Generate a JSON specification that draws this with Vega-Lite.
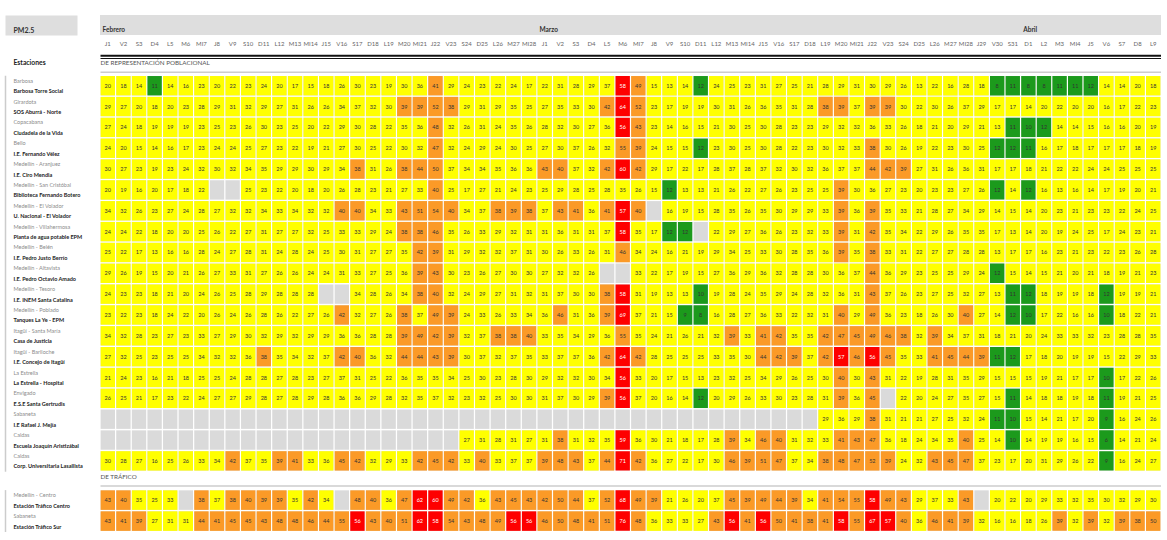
{
"$schema": "https://vega.github.io/schema/vega-lite/v6.json",
"padding": {"left": 5, "top": 15, "right": 0, "bottom": 0},
"config": {"font": "Lato", "view": {"stroke": null}},
"datasets": {
"months": [{"d": 101, "m": "Febrero"}, {"d": 201, "m": "Marzo"}, {"d": 301, "m": "Abril"}],
"stations": [
{"s":1,"k":"01|Barbosa|Barbosa Torre Social"},
{"s":2,"k":"02|Girardota|SOS Aburrá - Norte"},
{"s":3,"k":"03|Copacabana|Ciudadela de la Vida"},
{"s":4,"k":"04|Bello|I.E. Fernando Vélez"},
{"s":5,"k":"05|Medellín - Aranjuez|I.E. Ciro Mendia"},
{"s":6,"k":"06|Medellín - San Cristóbal|Biblioteca Fernando Botero"},
{"s":7,"k":"07|Medellín - El Volador|U. Nacional - El Volador"},
{"s":8,"k":"08|Medellín - Villahermosa|Planta de agua potable EPM"},
{"s":9,"k":"09|Medellín - Belén|I.E. Pedro Justo Berrío"},
{"s":10,"k":"10|Medellín - Altavista|I.E. Pedro Octavio Amado"},
{"s":11,"k":"11|Medellín - Tesoro|I.E. INEM Santa Catalina"},
{"s":12,"k":"12|Medellín - Poblado|Tanques La Ye - EPM"},
{"s":13,"k":"13|Itagüí - Santa María|Casa de Justicia"},
{"s":14,"k":"14|Itagüí - Bariloche|I.E. Concejo de Itagüí"},
{"s":15,"k":"15|La Estrella|La Estrella - Hospital"},
{"s":16,"k":"16|Envigado|E.S.E Santa Gertrudis"},
{"s":17,"k":"17|Sabaneta|I.E Rafael J. Mejía"},
{"s":18,"k":"18|Caldas|Escuela Joaquín Aristizábal"},
{"s":19,"k":"19|Caldas|Corp. Universitaria Lasallista"},
{"s":20,"k":"20|Medellín - Centro|Estación Tráfico Centro"},
{"s":21,"k":"21|Sabaneta|Estación Tráfico Sur"}
],
"cells": [
{"s":1,"d":101,"v":20},{"s":1,"d":102,"v":18},{"s":1,"d":103,"v":14},{"s":1,"d":104,"v":11},{"s":1,"d":105,"v":14},{"s":1,"d":106,"v":16},{"s":1,"d":107,"v":23},{"s":1,"d":108,"v":20},{"s":1,"d":109,"v":22},{"s":1,"d":110,"v":23},{"s":1,"d":111,"v":24},{"s":1,"d":112,"v":20},{"s":1,"d":113,"v":17},{"s":1,"d":114,"v":15},{"s":1,"d":115,"v":18},{"s":1,"d":116,"v":26},{"s":1,"d":117,"v":30},{"s":1,"d":118,"v":23},{"s":1,"d":119,"v":19},{"s":1,"d":120,"v":30},{"s":1,"d":121,"v":36},{"s":1,"d":122,"v":41},{"s":1,"d":123,"v":29},{"s":1,"d":124,"v":24},{"s":1,"d":125,"v":23},{"s":1,"d":126,"v":22},{"s":1,"d":127,"v":24},{"s":1,"d":128,"v":17},
{"s":1,"d":201,"v":22},{"s":1,"d":202,"v":31},{"s":1,"d":203,"v":28},{"s":1,"d":204,"v":29},{"s":1,"d":205,"v":37},{"s":1,"d":206,"v":58},{"s":1,"d":207,"v":49},{"s":1,"d":208,"v":15},{"s":1,"d":209,"v":13},{"s":1,"d":210,"v":14},{"s":1,"d":211,"v":12},{"s":1,"d":212,"v":24},{"s":1,"d":213,"v":25},{"s":1,"d":214,"v":23},{"s":1,"d":215,"v":31},{"s":1,"d":216,"v":27},{"s":1,"d":217,"v":25},{"s":1,"d":218,"v":21},{"s":1,"d":219,"v":28},{"s":1,"d":220,"v":29},{"s":1,"d":221,"v":31},{"s":1,"d":222,"v":30},{"s":1,"d":223,"v":29},{"s":1,"d":224,"v":26},{"s":1,"d":225,"v":13},{"s":1,"d":226,"v":22},{"s":1,"d":227,"v":16},{"s":1,"d":228,"v":28},{"s":1,"d":229,"v":18},{"s":1,"d":230,"v":8},{"s":1,"d":231,"v":11},
{"s":1,"d":301,"v":8},{"s":1,"d":302,"v":8},{"s":1,"d":303,"v":11},{"s":1,"d":304,"v":11},{"s":1,"d":305,"v":12},{"s":1,"d":306,"v":14},{"s":1,"d":307,"v":14},{"s":1,"d":308,"v":20},{"s":1,"d":309,"v":18},
{"s":2,"d":101,"v":29},{"s":2,"d":102,"v":27},{"s":2,"d":103,"v":20},{"s":2,"d":104,"v":18},{"s":2,"d":105,"v":20},{"s":2,"d":106,"v":23},{"s":2,"d":107,"v":28},{"s":2,"d":108,"v":29},{"s":2,"d":109,"v":31},{"s":2,"d":110,"v":32},{"s":2,"d":111,"v":29},{"s":2,"d":112,"v":27},{"s":2,"d":113,"v":31},{"s":2,"d":114,"v":26},{"s":2,"d":115,"v":26},{"s":2,"d":116,"v":34},{"s":2,"d":117,"v":37},{"s":2,"d":118,"v":32},{"s":2,"d":119,"v":30},{"s":2,"d":120,"v":39},{"s":2,"d":121,"v":39},{"s":2,"d":122,"v":52},{"s":2,"d":123,"v":38},{"s":2,"d":124,"v":29},{"s":2,"d":125,"v":31},{"s":2,"d":126,"v":29},{"s":2,"d":127,"v":35},{"s":2,"d":128,"v":25},
{"s":2,"d":201,"v":27},{"s":2,"d":202,"v":35},{"s":2,"d":203,"v":33},{"s":2,"d":204,"v":30},{"s":2,"d":205,"v":42},{"s":2,"d":206,"v":64},{"s":2,"d":207,"v":52},{"s":2,"d":208,"v":23},{"s":2,"d":209,"v":17},{"s":2,"d":210,"v":19},{"s":2,"d":211,"v":19},{"s":2,"d":212,"v":30},{"s":2,"d":213,"v":31},{"s":2,"d":214,"v":26},{"s":2,"d":215,"v":36},{"s":2,"d":216,"v":35},{"s":2,"d":217,"v":31},{"s":2,"d":218,"v":28},{"s":2,"d":219,"v":38},{"s":2,"d":220,"v":39},{"s":2,"d":221,"v":37},{"s":2,"d":222,"v":39},{"s":2,"d":223,"v":39},{"s":2,"d":224,"v":30},{"s":2,"d":225,"v":22},{"s":2,"d":226,"v":30},{"s":2,"d":227,"v":26},{"s":2,"d":228,"v":37},{"s":2,"d":229,"v":29},{"s":2,"d":230,"v":17},{"s":2,"d":231,"v":17},
{"s":2,"d":301,"v":14},{"s":2,"d":302,"v":20},{"s":2,"d":303,"v":22},{"s":2,"d":304,"v":20},{"s":2,"d":305,"v":20},{"s":2,"d":306,"v":16},{"s":2,"d":307,"v":17},{"s":2,"d":308,"v":22},{"s":2,"d":309,"v":23},
{"s":3,"d":101,"v":27},{"s":3,"d":102,"v":24},{"s":3,"d":103,"v":18},{"s":3,"d":104,"v":19},{"s":3,"d":105,"v":19},{"s":3,"d":106,"v":19},{"s":3,"d":107,"v":23},{"s":3,"d":108,"v":25},{"s":3,"d":109,"v":23},{"s":3,"d":110,"v":26},{"s":3,"d":111,"v":30},{"s":3,"d":112,"v":23},{"s":3,"d":113,"v":25},{"s":3,"d":114,"v":20},{"s":3,"d":115,"v":22},{"s":3,"d":116,"v":29},{"s":3,"d":117,"v":30},{"s":3,"d":118,"v":28},{"s":3,"d":119,"v":22},{"s":3,"d":120,"v":35},{"s":3,"d":121,"v":36},{"s":3,"d":122,"v":48},{"s":3,"d":123,"v":32},{"s":3,"d":124,"v":26},{"s":3,"d":125,"v":31},{"s":3,"d":126,"v":24},{"s":3,"d":127,"v":35},{"s":3,"d":128,"v":26},
{"s":3,"d":201,"v":28},{"s":3,"d":202,"v":32},{"s":3,"d":203,"v":30},{"s":3,"d":204,"v":27},{"s":3,"d":205,"v":36},{"s":3,"d":206,"v":56},{"s":3,"d":207,"v":43},{"s":3,"d":208,"v":23},{"s":3,"d":209,"v":14},{"s":3,"d":210,"v":16},{"s":3,"d":211,"v":15},{"s":3,"d":212,"v":21},{"s":3,"d":213,"v":30},{"s":3,"d":214,"v":25},{"s":3,"d":215,"v":30},{"s":3,"d":216,"v":28},{"s":3,"d":217,"v":23},{"s":3,"d":218,"v":23},{"s":3,"d":219,"v":29},{"s":3,"d":220,"v":32},{"s":3,"d":221,"v":32},{"s":3,"d":222,"v":36},{"s":3,"d":223,"v":33},{"s":3,"d":224,"v":26},{"s":3,"d":225,"v":18},{"s":3,"d":226,"v":21},{"s":3,"d":227,"v":20},{"s":3,"d":228,"v":29},{"s":3,"d":229,"v":21},{"s":3,"d":230,"v":13},{"s":3,"d":231,"v":11},
{"s":3,"d":301,"v":10},{"s":3,"d":302,"v":12},{"s":3,"d":303,"v":14},{"s":3,"d":304,"v":14},{"s":3,"d":305,"v":15},{"s":3,"d":306,"v":16},{"s":3,"d":307,"v":16},{"s":3,"d":308,"v":20},{"s":3,"d":309,"v":19},
{"s":4,"d":101,"v":24},{"s":4,"d":102,"v":20},{"s":4,"d":103,"v":15},{"s":4,"d":104,"v":14},{"s":4,"d":105,"v":16},{"s":4,"d":106,"v":17},{"s":4,"d":107,"v":23},{"s":4,"d":108,"v":24},{"s":4,"d":109,"v":24},{"s":4,"d":110,"v":25},{"s":4,"d":111,"v":27},{"s":4,"d":112,"v":23},{"s":4,"d":113,"v":22},{"s":4,"d":114,"v":19},{"s":4,"d":115,"v":21},{"s":4,"d":116,"v":27},{"s":4,"d":117,"v":30},{"s":4,"d":118,"v":25},{"s":4,"d":119,"v":22},{"s":4,"d":120,"v":30},{"s":4,"d":121,"v":32},{"s":4,"d":122,"v":47},{"s":4,"d":123,"v":32},{"s":4,"d":124,"v":24},{"s":4,"d":125,"v":29},{"s":4,"d":126,"v":24},{"s":4,"d":127,"v":30},{"s":4,"d":128,"v":25},
{"s":4,"d":201,"v":27},{"s":4,"d":202,"v":30},{"s":4,"d":203,"v":37},{"s":4,"d":204,"v":26},{"s":4,"d":205,"v":32},{"s":4,"d":206,"v":55},{"s":4,"d":207,"v":39},{"s":4,"d":208,"v":24},{"s":4,"d":209,"v":15},{"s":4,"d":210,"v":15},{"s":4,"d":211,"v":12},{"s":4,"d":212,"v":23},{"s":4,"d":213,"v":30},{"s":4,"d":214,"v":25},{"s":4,"d":215,"v":30},{"s":4,"d":216,"v":28},{"s":4,"d":217,"v":22},{"s":4,"d":218,"v":23},{"s":4,"d":219,"v":30},{"s":4,"d":220,"v":32},{"s":4,"d":221,"v":33},{"s":4,"d":222,"v":38},{"s":4,"d":223,"v":30},{"s":4,"d":224,"v":26},{"s":4,"d":225,"v":19},{"s":4,"d":226,"v":22},{"s":4,"d":227,"v":23},{"s":4,"d":228,"v":30},{"s":4,"d":229,"v":25},{"s":4,"d":230,"v":12},{"s":4,"d":231,"v":12},
{"s":4,"d":301,"v":11},{"s":4,"d":302,"v":16},{"s":4,"d":303,"v":17},{"s":4,"d":304,"v":18},{"s":4,"d":305,"v":17},{"s":4,"d":306,"v":17},{"s":4,"d":307,"v":17},{"s":4,"d":308,"v":18},{"s":4,"d":309,"v":19},
{"s":5,"d":101,"v":30},{"s":5,"d":102,"v":27},{"s":5,"d":103,"v":23},{"s":5,"d":104,"v":19},{"s":5,"d":105,"v":23},{"s":5,"d":106,"v":24},{"s":5,"d":107,"v":32},{"s":5,"d":108,"v":30},{"s":5,"d":109,"v":32},{"s":5,"d":110,"v":34},{"s":5,"d":111,"v":35},{"s":5,"d":112,"v":29},{"s":5,"d":113,"v":29},{"s":5,"d":114,"v":30},{"s":5,"d":115,"v":29},{"s":5,"d":116,"v":34},{"s":5,"d":117,"v":38},{"s":5,"d":118,"v":31},{"s":5,"d":119,"v":26},{"s":5,"d":120,"v":38},{"s":5,"d":121,"v":44},{"s":5,"d":122,"v":50},{"s":5,"d":123,"v":37},{"s":5,"d":124,"v":34},{"s":5,"d":125,"v":34},{"s":5,"d":126,"v":35},{"s":5,"d":127,"v":36},{"s":5,"d":128,"v":36},
{"s":5,"d":201,"v":43},{"s":5,"d":202,"v":40},{"s":5,"d":203,"v":37},{"s":5,"d":204,"v":32},{"s":5,"d":205,"v":42},{"s":5,"d":206,"v":60},{"s":5,"d":207,"v":42},{"s":5,"d":208,"v":29},{"s":5,"d":209,"v":17},{"s":5,"d":210,"v":22},{"s":5,"d":211,"v":17},{"s":5,"d":212,"v":28},{"s":5,"d":213,"v":37},{"s":5,"d":214,"v":28},{"s":5,"d":215,"v":37},{"s":5,"d":216,"v":32},{"s":5,"d":217,"v":30},{"s":5,"d":218,"v":32},{"s":5,"d":219,"v":36},{"s":5,"d":220,"v":37},{"s":5,"d":221,"v":37},{"s":5,"d":222,"v":44},{"s":5,"d":223,"v":42},{"s":5,"d":224,"v":39},{"s":5,"d":225,"v":27},{"s":5,"d":226,"v":31},{"s":5,"d":227,"v":26},{"s":5,"d":228,"v":36},{"s":5,"d":229,"v":31},{"s":5,"d":230,"v":17},{"s":5,"d":231,"v":17},
{"s":5,"d":301,"v":18},{"s":5,"d":302,"v":21},{"s":5,"d":303,"v":22},{"s":5,"d":304,"v":22},{"s":5,"d":305,"v":24},{"s":5,"d":306,"v":24},{"s":5,"d":307,"v":25},{"s":5,"d":308,"v":25},{"s":5,"d":309,"v":25},
{"s":6,"d":101,"v":20},{"s":6,"d":102,"v":19},{"s":6,"d":103,"v":16},{"s":6,"d":104,"v":20},{"s":6,"d":105,"v":17},{"s":6,"d":106,"v":18},{"s":6,"d":107,"v":22},{"s":6,"d":108,"v":null},{"s":6,"d":109,"v":null},{"s":6,"d":110,"v":25},{"s":6,"d":111,"v":23},{"s":6,"d":112,"v":22},{"s":6,"d":113,"v":20},{"s":6,"d":114,"v":18},{"s":6,"d":115,"v":20},{"s":6,"d":116,"v":26},{"s":6,"d":117,"v":28},{"s":6,"d":118,"v":23},{"s":6,"d":119,"v":21},{"s":6,"d":120,"v":27},{"s":6,"d":121,"v":33},{"s":6,"d":122,"v":40},{"s":6,"d":123,"v":25},{"s":6,"d":124,"v":17},{"s":6,"d":125,"v":27},{"s":6,"d":126,"v":21},{"s":6,"d":127,"v":24},{"s":6,"d":128,"v":23},
{"s":6,"d":201,"v":25},{"s":6,"d":202,"v":29},{"s":6,"d":203,"v":28},{"s":6,"d":204,"v":25},{"s":6,"d":205,"v":28},{"s":6,"d":206,"v":35},{"s":6,"d":207,"v":26},{"s":6,"d":208,"v":15},{"s":6,"d":209,"v":12},{"s":6,"d":210,"v":13},{"s":6,"d":211,"v":13},{"s":6,"d":212,"v":21},{"s":6,"d":213,"v":26},{"s":6,"d":214,"v":22},{"s":6,"d":215,"v":27},{"s":6,"d":216,"v":26},{"s":6,"d":217,"v":23},{"s":6,"d":218,"v":25},{"s":6,"d":219,"v":25},{"s":6,"d":220,"v":39},{"s":6,"d":221,"v":30},{"s":6,"d":222,"v":36},{"s":6,"d":223,"v":27},{"s":6,"d":224,"v":23},{"s":6,"d":225,"v":20},{"s":6,"d":226,"v":23},{"s":6,"d":227,"v":23},{"s":6,"d":228,"v":27},{"s":6,"d":229,"v":26},{"s":6,"d":230,"v":12},{"s":6,"d":231,"v":14},
{"s":6,"d":301,"v":12},{"s":6,"d":302,"v":16},{"s":6,"d":303,"v":13},{"s":6,"d":304,"v":16},{"s":6,"d":305,"v":14},{"s":6,"d":306,"v":17},{"s":6,"d":307,"v":19},{"s":6,"d":308,"v":20},{"s":6,"d":309,"v":21},
{"s":7,"d":101,"v":34},{"s":7,"d":102,"v":32},{"s":7,"d":103,"v":26},{"s":7,"d":104,"v":23},{"s":7,"d":105,"v":27},{"s":7,"d":106,"v":24},{"s":7,"d":107,"v":28},{"s":7,"d":108,"v":27},{"s":7,"d":109,"v":32},{"s":7,"d":110,"v":32},{"s":7,"d":111,"v":34},{"s":7,"d":112,"v":33},{"s":7,"d":113,"v":34},{"s":7,"d":114,"v":32},{"s":7,"d":115,"v":32},{"s":7,"d":116,"v":40},{"s":7,"d":117,"v":40},{"s":7,"d":118,"v":34},{"s":7,"d":119,"v":33},{"s":7,"d":120,"v":43},{"s":7,"d":121,"v":51},{"s":7,"d":122,"v":54},{"s":7,"d":123,"v":40},{"s":7,"d":124,"v":34},{"s":7,"d":125,"v":37},{"s":7,"d":126,"v":38},{"s":7,"d":127,"v":39},{"s":7,"d":128,"v":38},
{"s":7,"d":201,"v":37},{"s":7,"d":202,"v":43},{"s":7,"d":203,"v":41},{"s":7,"d":204,"v":36},{"s":7,"d":205,"v":41},{"s":7,"d":206,"v":57},{"s":7,"d":207,"v":40},{"s":7,"d":208,"v":null},{"s":7,"d":209,"v":16},{"s":7,"d":210,"v":19},{"s":7,"d":211,"v":15},{"s":7,"d":212,"v":28},{"s":7,"d":213,"v":35},{"s":7,"d":214,"v":26},{"s":7,"d":215,"v":35},{"s":7,"d":216,"v":30},{"s":7,"d":217,"v":29},{"s":7,"d":218,"v":29},{"s":7,"d":219,"v":33},{"s":7,"d":220,"v":39},{"s":7,"d":221,"v":36},{"s":7,"d":222,"v":39},{"s":7,"d":223,"v":35},{"s":7,"d":224,"v":33},{"s":7,"d":225,"v":21},{"s":7,"d":226,"v":28},{"s":7,"d":227,"v":27},{"s":7,"d":228,"v":34},{"s":7,"d":229,"v":29},{"s":7,"d":230,"v":14},{"s":7,"d":231,"v":15},
{"s":7,"d":301,"v":14},{"s":7,"d":302,"v":20},{"s":7,"d":303,"v":23},{"s":7,"d":304,"v":21},{"s":7,"d":305,"v":23},{"s":7,"d":306,"v":23},{"s":7,"d":307,"v":22},{"s":7,"d":308,"v":24},{"s":7,"d":309,"v":25},
{"s":8,"d":101,"v":24},{"s":8,"d":102,"v":24},{"s":8,"d":103,"v":22},{"s":8,"d":104,"v":18},{"s":8,"d":105,"v":20},{"s":8,"d":106,"v":20},{"s":8,"d":107,"v":25},{"s":8,"d":108,"v":26},{"s":8,"d":109,"v":22},{"s":8,"d":110,"v":27},{"s":8,"d":111,"v":31},{"s":8,"d":112,"v":27},{"s":8,"d":113,"v":27},{"s":8,"d":114,"v":32},{"s":8,"d":115,"v":25},{"s":8,"d":116,"v":33},{"s":8,"d":117,"v":33},{"s":8,"d":118,"v":29},{"s":8,"d":119,"v":24},{"s":8,"d":120,"v":38},{"s":8,"d":121,"v":38},{"s":8,"d":122,"v":46},{"s":8,"d":123,"v":35},{"s":8,"d":124,"v":26},{"s":8,"d":125,"v":33},{"s":8,"d":126,"v":29},{"s":8,"d":127,"v":32},{"s":8,"d":128,"v":31},
{"s":8,"d":201,"v":31},{"s":8,"d":202,"v":36},{"s":8,"d":203,"v":31},{"s":8,"d":204,"v":31},{"s":8,"d":205,"v":37},{"s":8,"d":206,"v":58},{"s":8,"d":207,"v":35},{"s":8,"d":208,"v":17},{"s":8,"d":209,"v":12},{"s":8,"d":210,"v":12},{"s":8,"d":211,"v":null},{"s":8,"d":212,"v":22},{"s":8,"d":213,"v":29},{"s":8,"d":214,"v":27},{"s":8,"d":215,"v":36},{"s":8,"d":216,"v":26},{"s":8,"d":217,"v":23},{"s":8,"d":218,"v":32},{"s":8,"d":219,"v":33},{"s":8,"d":220,"v":39},{"s":8,"d":221,"v":31},{"s":8,"d":222,"v":42},{"s":8,"d":223,"v":35},{"s":8,"d":224,"v":34},{"s":8,"d":225,"v":22},{"s":8,"d":226,"v":29},{"s":8,"d":227,"v":26},{"s":8,"d":228,"v":35},{"s":8,"d":229,"v":35},{"s":8,"d":230,"v":17},{"s":8,"d":231,"v":13},
{"s":8,"d":301,"v":14},{"s":8,"d":302,"v":20},{"s":8,"d":303,"v":19},{"s":8,"d":304,"v":24},{"s":8,"d":305,"v":25},{"s":8,"d":306,"v":17},{"s":8,"d":307,"v":24},{"s":8,"d":308,"v":23},{"s":8,"d":309,"v":21},
{"s":9,"d":101,"v":25},{"s":9,"d":102,"v":22},{"s":9,"d":103,"v":17},{"s":9,"d":104,"v":13},{"s":9,"d":105,"v":16},{"s":9,"d":106,"v":16},{"s":9,"d":107,"v":28},{"s":9,"d":108,"v":24},{"s":9,"d":109,"v":27},{"s":9,"d":110,"v":28},{"s":9,"d":111,"v":31},{"s":9,"d":112,"v":24},{"s":9,"d":113,"v":28},{"s":9,"d":114,"v":24},{"s":9,"d":115,"v":25},{"s":9,"d":116,"v":30},{"s":9,"d":117,"v":31},{"s":9,"d":118,"v":27},{"s":9,"d":119,"v":27},{"s":9,"d":120,"v":35},{"s":9,"d":121,"v":42},{"s":9,"d":122,"v":39},{"s":9,"d":123,"v":31},{"s":9,"d":124,"v":29},{"s":9,"d":125,"v":32},{"s":9,"d":126,"v":32},{"s":9,"d":127,"v":37},{"s":9,"d":128,"v":31},
{"s":9,"d":201,"v":30},{"s":9,"d":202,"v":26},{"s":9,"d":203,"v":33},{"s":9,"d":204,"v":26},{"s":9,"d":205,"v":31},{"s":9,"d":206,"v":46},{"s":9,"d":207,"v":34},{"s":9,"d":208,"v":24},{"s":9,"d":209,"v":16},{"s":9,"d":210,"v":21},{"s":9,"d":211,"v":19},{"s":9,"d":212,"v":29},{"s":9,"d":213,"v":34},{"s":9,"d":214,"v":25},{"s":9,"d":215,"v":33},{"s":9,"d":216,"v":30},{"s":9,"d":217,"v":28},{"s":9,"d":218,"v":35},{"s":9,"d":219,"v":36},{"s":9,"d":220,"v":39},{"s":9,"d":221,"v":35},{"s":9,"d":222,"v":38},{"s":9,"d":223,"v":33},{"s":9,"d":224,"v":31},{"s":9,"d":225,"v":22},{"s":9,"d":226,"v":27},{"s":9,"d":227,"v":27},{"s":9,"d":228,"v":28},{"s":9,"d":229,"v":28},{"s":9,"d":230,"v":13},{"s":9,"d":231,"v":17},
{"s":9,"d":301,"v":17},{"s":9,"d":302,"v":16},{"s":9,"d":303,"v":23},{"s":9,"d":304,"v":21},{"s":9,"d":305,"v":23},{"s":9,"d":306,"v":22},{"s":9,"d":307,"v":23},{"s":9,"d":308,"v":26},{"s":9,"d":309,"v":28},
{"s":10,"d":101,"v":29},{"s":10,"d":102,"v":26},{"s":10,"d":103,"v":19},{"s":10,"d":104,"v":15},{"s":10,"d":105,"v":20},{"s":10,"d":106,"v":21},{"s":10,"d":107,"v":26},{"s":10,"d":108,"v":27},{"s":10,"d":109,"v":33},{"s":10,"d":110,"v":31},{"s":10,"d":111,"v":27},{"s":10,"d":112,"v":26},{"s":10,"d":113,"v":26},{"s":10,"d":114,"v":24},{"s":10,"d":115,"v":24},{"s":10,"d":116,"v":31},{"s":10,"d":117,"v":33},{"s":10,"d":118,"v":27},{"s":10,"d":119,"v":25},{"s":10,"d":120,"v":36},{"s":10,"d":121,"v":39},{"s":10,"d":122,"v":43},{"s":10,"d":123,"v":30},{"s":10,"d":124,"v":23},{"s":10,"d":125,"v":26},{"s":10,"d":126,"v":27},{"s":10,"d":127,"v":30},{"s":10,"d":128,"v":30},
{"s":10,"d":201,"v":27},{"s":10,"d":202,"v":32},{"s":10,"d":203,"v":32},{"s":10,"d":204,"v":26},{"s":10,"d":205,"v":null},{"s":10,"d":206,"v":null},{"s":10,"d":207,"v":33},{"s":10,"d":208,"v":22},{"s":10,"d":209,"v":17},{"s":10,"d":210,"v":19},{"s":10,"d":211,"v":15},{"s":10,"d":212,"v":27},{"s":10,"d":213,"v":36},{"s":10,"d":214,"v":29},{"s":10,"d":215,"v":36},{"s":10,"d":216,"v":32},{"s":10,"d":217,"v":28},{"s":10,"d":218,"v":28},{"s":10,"d":219,"v":30},{"s":10,"d":220,"v":36},{"s":10,"d":221,"v":37},{"s":10,"d":222,"v":44},{"s":10,"d":223,"v":36},{"s":10,"d":224,"v":29},{"s":10,"d":225,"v":23},{"s":10,"d":226,"v":25},{"s":10,"d":227,"v":25},{"s":10,"d":228,"v":29},{"s":10,"d":229,"v":24},{"s":10,"d":230,"v":12},{"s":10,"d":231,"v":15},
{"s":10,"d":301,"v":14},{"s":10,"d":302,"v":15},{"s":10,"d":303,"v":21},{"s":10,"d":304,"v":20},{"s":10,"d":305,"v":21},{"s":10,"d":306,"v":18},{"s":10,"d":307,"v":19},{"s":10,"d":308,"v":21},{"s":10,"d":309,"v":23},
{"s":11,"d":101,"v":24},{"s":11,"d":102,"v":23},{"s":11,"d":103,"v":23},{"s":11,"d":104,"v":18},{"s":11,"d":105,"v":21},{"s":11,"d":106,"v":20},{"s":11,"d":107,"v":24},{"s":11,"d":108,"v":26},{"s":11,"d":109,"v":25},{"s":11,"d":110,"v":28},{"s":11,"d":111,"v":29},{"s":11,"d":112,"v":28},{"s":11,"d":113,"v":28},{"s":11,"d":114,"v":28},{"s":11,"d":115,"v":null},{"s":11,"d":116,"v":null},{"s":11,"d":117,"v":34},{"s":11,"d":118,"v":28},{"s":11,"d":119,"v":26},{"s":11,"d":120,"v":34},{"s":11,"d":121,"v":38},{"s":11,"d":122,"v":40},{"s":11,"d":123,"v":32},{"s":11,"d":124,"v":24},{"s":11,"d":125,"v":29},{"s":11,"d":126,"v":27},{"s":11,"d":127,"v":31},{"s":11,"d":128,"v":32},
{"s":11,"d":201,"v":31},{"s":11,"d":202,"v":37},{"s":11,"d":203,"v":30},{"s":11,"d":204,"v":30},{"s":11,"d":205,"v":38},{"s":11,"d":206,"v":58},{"s":11,"d":207,"v":31},{"s":11,"d":208,"v":19},{"s":11,"d":209,"v":13},{"s":11,"d":210,"v":13},{"s":11,"d":211,"v":10},{"s":11,"d":212,"v":19},{"s":11,"d":213,"v":28},{"s":11,"d":214,"v":24},{"s":11,"d":215,"v":35},{"s":11,"d":216,"v":29},{"s":11,"d":217,"v":24},{"s":11,"d":218,"v":28},{"s":11,"d":219,"v":32},{"s":11,"d":220,"v":36},{"s":11,"d":221,"v":31},{"s":11,"d":222,"v":43},{"s":11,"d":223,"v":37},{"s":11,"d":224,"v":26},{"s":11,"d":225,"v":23},{"s":11,"d":226,"v":27},{"s":11,"d":227,"v":25},{"s":11,"d":228,"v":32},{"s":11,"d":229,"v":27},{"s":11,"d":230,"v":13},{"s":11,"d":231,"v":11},
{"s":11,"d":301,"v":12},{"s":11,"d":302,"v":18},{"s":11,"d":303,"v":19},{"s":11,"d":304,"v":19},{"s":11,"d":305,"v":18},{"s":11,"d":306,"v":12},{"s":11,"d":307,"v":19},{"s":11,"d":308,"v":19},{"s":11,"d":309,"v":21},
{"s":12,"d":101,"v":23},{"s":12,"d":102,"v":22},{"s":12,"d":103,"v":23},{"s":12,"d":104,"v":18},{"s":12,"d":105,"v":24},{"s":12,"d":106,"v":22},{"s":12,"d":107,"v":20},{"s":12,"d":108,"v":26},{"s":12,"d":109,"v":24},{"s":12,"d":110,"v":26},{"s":12,"d":111,"v":28},{"s":12,"d":112,"v":26},{"s":12,"d":113,"v":22},{"s":12,"d":114,"v":27},{"s":12,"d":115,"v":26},{"s":12,"d":116,"v":42},{"s":12,"d":117,"v":32},{"s":12,"d":118,"v":27},{"s":12,"d":119,"v":26},{"s":12,"d":120,"v":38},{"s":12,"d":121,"v":37},{"s":12,"d":122,"v":49},{"s":12,"d":123,"v":39},{"s":12,"d":124,"v":24},{"s":12,"d":125,"v":33},{"s":12,"d":126,"v":26},{"s":12,"d":127,"v":33},{"s":12,"d":128,"v":34},
{"s":12,"d":201,"v":36},{"s":12,"d":202,"v":46},{"s":12,"d":203,"v":31},{"s":12,"d":204,"v":36},{"s":12,"d":205,"v":39},{"s":12,"d":206,"v":69},{"s":12,"d":207,"v":37},{"s":12,"d":208,"v":21},{"s":12,"d":209,"v":15},{"s":12,"d":210,"v":9},{"s":12,"d":211,"v":8},{"s":12,"d":212,"v":16},{"s":12,"d":213,"v":28},{"s":12,"d":214,"v":27},{"s":12,"d":215,"v":36},{"s":12,"d":216,"v":33},{"s":12,"d":217,"v":22},{"s":12,"d":218,"v":32},{"s":12,"d":219,"v":31},{"s":12,"d":220,"v":40},{"s":12,"d":221,"v":29},{"s":12,"d":222,"v":49},{"s":12,"d":223,"v":36},{"s":12,"d":224,"v":23},{"s":12,"d":225,"v":18},{"s":12,"d":226,"v":26},{"s":12,"d":227,"v":30},{"s":12,"d":228,"v":40},{"s":12,"d":229,"v":27},{"s":12,"d":230,"v":14},{"s":12,"d":231,"v":12},
{"s":12,"d":301,"v":10},{"s":12,"d":302,"v":17},{"s":12,"d":303,"v":22},{"s":12,"d":304,"v":16},{"s":12,"d":305,"v":16},{"s":12,"d":306,"v":10},{"s":12,"d":307,"v":18},{"s":12,"d":308,"v":22},{"s":12,"d":309,"v":21},
{"s":13,"d":101,"v":34},{"s":13,"d":102,"v":32},{"s":13,"d":103,"v":28},{"s":13,"d":104,"v":23},{"s":13,"d":105,"v":27},{"s":13,"d":106,"v":23},{"s":13,"d":107,"v":33},{"s":13,"d":108,"v":27},{"s":13,"d":109,"v":29},{"s":13,"d":110,"v":30},{"s":13,"d":111,"v":32},{"s":13,"d":112,"v":29},{"s":13,"d":113,"v":32},{"s":13,"d":114,"v":29},{"s":13,"d":115,"v":29},{"s":13,"d":116,"v":36},{"s":13,"d":117,"v":36},{"s":13,"d":118,"v":28},{"s":13,"d":119,"v":28},{"s":13,"d":120,"v":39},{"s":13,"d":121,"v":49},{"s":13,"d":122,"v":42},{"s":13,"d":123,"v":39},{"s":13,"d":124,"v":32},{"s":13,"d":125,"v":37},{"s":13,"d":126,"v":38},{"s":13,"d":127,"v":38},{"s":13,"d":128,"v":40},
{"s":13,"d":201,"v":33},{"s":13,"d":202,"v":35},{"s":13,"d":203,"v":34},{"s":13,"d":204,"v":29},{"s":13,"d":205,"v":36},{"s":13,"d":206,"v":55},{"s":13,"d":207,"v":35},{"s":13,"d":208,"v":24},{"s":13,"d":209,"v":21},{"s":13,"d":210,"v":26},{"s":13,"d":211,"v":21},{"s":13,"d":212,"v":32},{"s":13,"d":213,"v":39},{"s":13,"d":214,"v":33},{"s":13,"d":215,"v":41},{"s":13,"d":216,"v":42},{"s":13,"d":217,"v":35},{"s":13,"d":218,"v":35},{"s":13,"d":219,"v":42},{"s":13,"d":220,"v":47},{"s":13,"d":221,"v":45},{"s":13,"d":222,"v":49},{"s":13,"d":223,"v":46},{"s":13,"d":224,"v":38},{"s":13,"d":225,"v":32},{"s":13,"d":226,"v":39},{"s":13,"d":227,"v":34},{"s":13,"d":228,"v":37},{"s":13,"d":229,"v":31},{"s":13,"d":230,"v":18},{"s":13,"d":231,"v":21},
{"s":13,"d":301,"v":20},{"s":13,"d":302,"v":24},{"s":13,"d":303,"v":33},{"s":13,"d":304,"v":33},{"s":13,"d":305,"v":32},{"s":13,"d":306,"v":23},{"s":13,"d":307,"v":28},{"s":13,"d":308,"v":28},{"s":13,"d":309,"v":35},
{"s":14,"d":101,"v":27},{"s":14,"d":102,"v":32},{"s":14,"d":103,"v":25},{"s":14,"d":104,"v":23},{"s":14,"d":105,"v":25},{"s":14,"d":106,"v":25},{"s":14,"d":107,"v":34},{"s":14,"d":108,"v":32},{"s":14,"d":109,"v":32},{"s":14,"d":110,"v":36},{"s":14,"d":111,"v":38},{"s":14,"d":112,"v":35},{"s":14,"d":113,"v":34},{"s":14,"d":114,"v":32},{"s":14,"d":115,"v":37},{"s":14,"d":116,"v":42},{"s":14,"d":117,"v":40},{"s":14,"d":118,"v":36},{"s":14,"d":119,"v":32},{"s":14,"d":120,"v":44},{"s":14,"d":121,"v":44},{"s":14,"d":122,"v":43},{"s":14,"d":123,"v":39},{"s":14,"d":124,"v":30},{"s":14,"d":125,"v":37},{"s":14,"d":126,"v":32},{"s":14,"d":127,"v":37},{"s":14,"d":128,"v":35},
{"s":14,"d":201,"v":33},{"s":14,"d":202,"v":37},{"s":14,"d":203,"v":37},{"s":14,"d":204,"v":36},{"s":14,"d":205,"v":42},{"s":14,"d":206,"v":64},{"s":14,"d":207,"v":42},{"s":14,"d":208,"v":28},{"s":14,"d":209,"v":25},{"s":14,"d":210,"v":25},{"s":14,"d":211,"v":25},{"s":14,"d":212,"v":33},{"s":14,"d":213,"v":35},{"s":14,"d":214,"v":30},{"s":14,"d":215,"v":44},{"s":14,"d":216,"v":42},{"s":14,"d":217,"v":39},{"s":14,"d":218,"v":37},{"s":14,"d":219,"v":42},{"s":14,"d":220,"v":57},{"s":14,"d":221,"v":46},{"s":14,"d":222,"v":56},{"s":14,"d":223,"v":45},{"s":14,"d":224,"v":35},{"s":14,"d":225,"v":33},{"s":14,"d":226,"v":41},{"s":14,"d":227,"v":45},{"s":14,"d":228,"v":44},{"s":14,"d":229,"v":39},{"s":14,"d":230,"v":11},{"s":14,"d":231,"v":12},
{"s":14,"d":301,"v":17},{"s":14,"d":302,"v":18},{"s":14,"d":303,"v":20},{"s":14,"d":304,"v":19},{"s":14,"d":305,"v":19},{"s":14,"d":306,"v":15},{"s":14,"d":307,"v":22},{"s":14,"d":308,"v":29},{"s":14,"d":309,"v":33},
{"s":15,"d":101,"v":21},{"s":15,"d":102,"v":24},{"s":15,"d":103,"v":23},{"s":15,"d":104,"v":16},{"s":15,"d":105,"v":21},{"s":15,"d":106,"v":18},{"s":15,"d":107,"v":25},{"s":15,"d":108,"v":25},{"s":15,"d":109,"v":24},{"s":15,"d":110,"v":28},{"s":15,"d":111,"v":28},{"s":15,"d":112,"v":27},{"s":15,"d":113,"v":28},{"s":15,"d":114,"v":23},{"s":15,"d":115,"v":27},{"s":15,"d":116,"v":37},{"s":15,"d":117,"v":31},{"s":15,"d":118,"v":25},{"s":15,"d":119,"v":22},{"s":15,"d":120,"v":36},{"s":15,"d":121,"v":35},{"s":15,"d":122,"v":35},{"s":15,"d":123,"v":34},{"s":15,"d":124,"v":25},{"s":15,"d":125,"v":30},{"s":15,"d":126,"v":23},{"s":15,"d":127,"v":28},{"s":15,"d":128,"v":30},
{"s":15,"d":201,"v":29},{"s":15,"d":202,"v":32},{"s":15,"d":203,"v":32},{"s":15,"d":204,"v":30},{"s":15,"d":205,"v":34},{"s":15,"d":206,"v":56},{"s":15,"d":207,"v":33},{"s":15,"d":208,"v":20},{"s":15,"d":209,"v":17},{"s":15,"d":210,"v":15},{"s":15,"d":211,"v":13},{"s":15,"d":212,"v":23},{"s":15,"d":213,"v":32},{"s":15,"d":214,"v":25},{"s":15,"d":215,"v":34},{"s":15,"d":216,"v":29},{"s":15,"d":217,"v":26},{"s":15,"d":218,"v":25},{"s":15,"d":219,"v":30},{"s":15,"d":220,"v":40},{"s":15,"d":221,"v":30},{"s":15,"d":222,"v":43},{"s":15,"d":223,"v":31},{"s":15,"d":224,"v":22},{"s":15,"d":225,"v":19},{"s":15,"d":226,"v":28},{"s":15,"d":227,"v":31},{"s":15,"d":228,"v":35},{"s":15,"d":229,"v":29},{"s":15,"d":230,"v":15},{"s":15,"d":231,"v":15},
{"s":15,"d":301,"v":15},{"s":15,"d":302,"v":19},{"s":15,"d":303,"v":21},{"s":15,"d":304,"v":17},{"s":15,"d":305,"v":17},{"s":15,"d":306,"v":10},{"s":15,"d":307,"v":17},{"s":15,"d":308,"v":22},{"s":15,"d":309,"v":26},
{"s":16,"d":101,"v":26},{"s":16,"d":102,"v":25},{"s":16,"d":103,"v":21},{"s":16,"d":104,"v":17},{"s":16,"d":105,"v":23},{"s":16,"d":106,"v":22},{"s":16,"d":107,"v":24},{"s":16,"d":108,"v":27},{"s":16,"d":109,"v":27},{"s":16,"d":110,"v":29},{"s":16,"d":111,"v":28},{"s":16,"d":112,"v":27},{"s":16,"d":113,"v":28},{"s":16,"d":114,"v":29},{"s":16,"d":115,"v":28},{"s":16,"d":116,"v":36},{"s":16,"d":117,"v":36},{"s":16,"d":118,"v":29},{"s":16,"d":119,"v":28},{"s":16,"d":120,"v":32},{"s":16,"d":121,"v":35},{"s":16,"d":122,"v":37},{"s":16,"d":123,"v":32},{"s":16,"d":124,"v":23},{"s":16,"d":125,"v":32},{"s":16,"d":126,"v":25},{"s":16,"d":127,"v":30},{"s":16,"d":128,"v":30},
{"s":16,"d":201,"v":31},{"s":16,"d":202,"v":37},{"s":16,"d":203,"v":30},{"s":16,"d":204,"v":29},{"s":16,"d":205,"v":39},{"s":16,"d":206,"v":56},{"s":16,"d":207,"v":37},{"s":16,"d":208,"v":20},{"s":16,"d":209,"v":16},{"s":16,"d":210,"v":14},{"s":16,"d":211,"v":12},{"s":16,"d":212,"v":20},{"s":16,"d":213,"v":29},{"s":16,"d":214,"v":26},{"s":16,"d":215,"v":33},{"s":16,"d":216,"v":30},{"s":16,"d":217,"v":23},{"s":16,"d":218,"v":28},{"s":16,"d":219,"v":31},{"s":16,"d":220,"v":39},{"s":16,"d":221,"v":36},{"s":16,"d":222,"v":45},{"s":16,"d":223,"v":null},{"s":16,"d":224,"v":22},{"s":16,"d":225,"v":20},{"s":16,"d":226,"v":24},{"s":16,"d":227,"v":27},{"s":16,"d":228,"v":35},{"s":16,"d":229,"v":27},{"s":16,"d":230,"v":15},{"s":16,"d":231,"v":11},
{"s":16,"d":301,"v":14},{"s":16,"d":302,"v":18},{"s":16,"d":303,"v":18},{"s":16,"d":304,"v":19},{"s":16,"d":305,"v":18},{"s":16,"d":306,"v":11},{"s":16,"d":307,"v":19},{"s":16,"d":308,"v":21},{"s":16,"d":309,"v":25},
{"s":17,"d":101,"v":null},{"s":17,"d":102,"v":null},{"s":17,"d":103,"v":null},{"s":17,"d":104,"v":null},{"s":17,"d":105,"v":null},{"s":17,"d":106,"v":null},{"s":17,"d":107,"v":null},{"s":17,"d":108,"v":null},{"s":17,"d":109,"v":null},{"s":17,"d":110,"v":null},{"s":17,"d":111,"v":null},{"s":17,"d":112,"v":null},{"s":17,"d":113,"v":null},{"s":17,"d":114,"v":null},{"s":17,"d":115,"v":null},{"s":17,"d":116,"v":null},{"s":17,"d":117,"v":null},{"s":17,"d":118,"v":null},{"s":17,"d":119,"v":null},{"s":17,"d":120,"v":null},{"s":17,"d":121,"v":null},{"s":17,"d":122,"v":null},{"s":17,"d":123,"v":null},{"s":17,"d":124,"v":null},{"s":17,"d":125,"v":null},{"s":17,"d":126,"v":null},{"s":17,"d":127,"v":null},{"s":17,"d":128,"v":null},
{"s":17,"d":201,"v":null},{"s":17,"d":202,"v":null},{"s":17,"d":203,"v":null},{"s":17,"d":204,"v":null},{"s":17,"d":205,"v":null},{"s":17,"d":206,"v":null},{"s":17,"d":207,"v":null},{"s":17,"d":208,"v":null},{"s":17,"d":209,"v":null},{"s":17,"d":210,"v":null},{"s":17,"d":211,"v":null},{"s":17,"d":212,"v":null},{"s":17,"d":213,"v":null},{"s":17,"d":214,"v":null},{"s":17,"d":215,"v":null},{"s":17,"d":216,"v":null},{"s":17,"d":217,"v":null},{"s":17,"d":218,"v":null},{"s":17,"d":219,"v":29},{"s":17,"d":220,"v":36},{"s":17,"d":221,"v":29},{"s":17,"d":222,"v":38},{"s":17,"d":223,"v":31},{"s":17,"d":224,"v":21},{"s":17,"d":225,"v":21},{"s":17,"d":226,"v":27},{"s":17,"d":227,"v":25},{"s":17,"d":228,"v":32},{"s":17,"d":229,"v":24},{"s":17,"d":230,"v":11},{"s":17,"d":231,"v":10},
{"s":17,"d":301,"v":15},{"s":17,"d":302,"v":14},{"s":17,"d":303,"v":21},{"s":17,"d":304,"v":17},{"s":17,"d":305,"v":20},{"s":17,"d":306,"v":9},{"s":17,"d":307,"v":16},{"s":17,"d":308,"v":24},{"s":17,"d":309,"v":26},
{"s":18,"d":101,"v":null},{"s":18,"d":102,"v":null},{"s":18,"d":103,"v":null},{"s":18,"d":104,"v":null},{"s":18,"d":105,"v":null},{"s":18,"d":106,"v":null},{"s":18,"d":107,"v":null},{"s":18,"d":108,"v":null},{"s":18,"d":109,"v":null},{"s":18,"d":110,"v":null},{"s":18,"d":111,"v":null},{"s":18,"d":112,"v":null},{"s":18,"d":113,"v":null},{"s":18,"d":114,"v":null},{"s":18,"d":115,"v":null},{"s":18,"d":116,"v":null},{"s":18,"d":117,"v":null},{"s":18,"d":118,"v":null},{"s":18,"d":119,"v":null},{"s":18,"d":120,"v":null},{"s":18,"d":121,"v":null},{"s":18,"d":122,"v":null},{"s":18,"d":123,"v":null},{"s":18,"d":124,"v":27},{"s":18,"d":125,"v":31},{"s":18,"d":126,"v":28},{"s":18,"d":127,"v":31},{"s":18,"d":128,"v":27},
{"s":18,"d":201,"v":31},{"s":18,"d":202,"v":38},{"s":18,"d":203,"v":31},{"s":18,"d":204,"v":32},{"s":18,"d":205,"v":35},{"s":18,"d":206,"v":59},{"s":18,"d":207,"v":36},{"s":18,"d":208,"v":30},{"s":18,"d":209,"v":21},{"s":18,"d":210,"v":18},{"s":18,"d":211,"v":17},{"s":18,"d":212,"v":28},{"s":18,"d":213,"v":39},{"s":18,"d":214,"v":34},{"s":18,"d":215,"v":46},{"s":18,"d":216,"v":40},{"s":18,"d":217,"v":31},{"s":18,"d":218,"v":32},{"s":18,"d":219,"v":33},{"s":18,"d":220,"v":41},{"s":18,"d":221,"v":43},{"s":18,"d":222,"v":47},{"s":18,"d":223,"v":36},{"s":18,"d":224,"v":18},{"s":18,"d":225,"v":24},{"s":18,"d":226,"v":34},{"s":18,"d":227,"v":35},{"s":18,"d":228,"v":40},{"s":18,"d":229,"v":25},{"s":18,"d":230,"v":14},{"s":18,"d":231,"v":10},
{"s":18,"d":301,"v":14},{"s":18,"d":302,"v":19},{"s":18,"d":303,"v":19},{"s":18,"d":304,"v":16},{"s":18,"d":305,"v":15},{"s":18,"d":306,"v":6},{"s":18,"d":307,"v":14},{"s":18,"d":308,"v":21},{"s":18,"d":309,"v":24},
{"s":19,"d":101,"v":30},{"s":19,"d":102,"v":28},{"s":19,"d":103,"v":27},{"s":19,"d":104,"v":16},{"s":19,"d":105,"v":25},{"s":19,"d":106,"v":26},{"s":19,"d":107,"v":33},{"s":19,"d":108,"v":34},{"s":19,"d":109,"v":42},{"s":19,"d":110,"v":37},{"s":19,"d":111,"v":35},{"s":19,"d":112,"v":39},{"s":19,"d":113,"v":41},{"s":19,"d":114,"v":33},{"s":19,"d":115,"v":36},{"s":19,"d":116,"v":45},{"s":19,"d":117,"v":42},{"s":19,"d":118,"v":32},{"s":19,"d":119,"v":29},{"s":19,"d":120,"v":33},{"s":19,"d":121,"v":42},{"s":19,"d":122,"v":45},{"s":19,"d":123,"v":42},{"s":19,"d":124,"v":33},{"s":19,"d":125,"v":40},{"s":19,"d":126,"v":33},{"s":19,"d":127,"v":37},{"s":19,"d":128,"v":37},
{"s":19,"d":201,"v":39},{"s":19,"d":202,"v":48},{"s":19,"d":203,"v":43},{"s":19,"d":204,"v":37},{"s":19,"d":205,"v":44},{"s":19,"d":206,"v":71},{"s":19,"d":207,"v":42},{"s":19,"d":208,"v":36},{"s":19,"d":209,"v":27},{"s":19,"d":210,"v":22},{"s":19,"d":211,"v":17},{"s":19,"d":212,"v":30},{"s":19,"d":213,"v":46},{"s":19,"d":214,"v":39},{"s":19,"d":215,"v":51},{"s":19,"d":216,"v":47},{"s":19,"d":217,"v":37},{"s":19,"d":218,"v":34},{"s":19,"d":219,"v":38},{"s":19,"d":220,"v":48},{"s":19,"d":221,"v":47},{"s":19,"d":222,"v":52},{"s":19,"d":223,"v":39},{"s":19,"d":224,"v":24},{"s":19,"d":225,"v":32},{"s":19,"d":226,"v":43},{"s":19,"d":227,"v":45},{"s":19,"d":228,"v":47},{"s":19,"d":229,"v":37},{"s":19,"d":230,"v":23},{"s":19,"d":231,"v":17},
{"s":19,"d":301,"v":20},{"s":19,"d":302,"v":31},{"s":19,"d":303,"v":29},{"s":19,"d":304,"v":26},{"s":19,"d":305,"v":22},{"s":19,"d":306,"v":9},{"s":19,"d":307,"v":16},{"s":19,"d":308,"v":24},{"s":19,"d":309,"v":27},
{"s":20,"d":101,"v":43},{"s":20,"d":102,"v":40},{"s":20,"d":103,"v":35},{"s":20,"d":104,"v":25},{"s":20,"d":105,"v":33},{"s":20,"d":106,"v":null},{"s":20,"d":107,"v":38},{"s":20,"d":108,"v":37},{"s":20,"d":109,"v":38},{"s":20,"d":110,"v":40},{"s":20,"d":111,"v":39},{"s":20,"d":112,"v":39},{"s":20,"d":113,"v":35},{"s":20,"d":114,"v":42},{"s":20,"d":115,"v":34},{"s":20,"d":116,"v":null},{"s":20,"d":117,"v":48},{"s":20,"d":118,"v":40},{"s":20,"d":119,"v":36},{"s":20,"d":120,"v":47},{"s":20,"d":121,"v":62},{"s":20,"d":122,"v":60},{"s":20,"d":123,"v":49},{"s":20,"d":124,"v":42},{"s":20,"d":125,"v":36},{"s":20,"d":126,"v":43},{"s":20,"d":127,"v":45},{"s":20,"d":128,"v":43},
{"s":20,"d":201,"v":42},{"s":20,"d":202,"v":50},{"s":20,"d":203,"v":44},{"s":20,"d":204,"v":37},{"s":20,"d":205,"v":52},{"s":20,"d":206,"v":68},{"s":20,"d":207,"v":49},{"s":20,"d":208,"v":39},{"s":20,"d":209,"v":21},{"s":20,"d":210,"v":26},{"s":20,"d":211,"v":20},{"s":20,"d":212,"v":37},{"s":20,"d":213,"v":45},{"s":20,"d":214,"v":39},{"s":20,"d":215,"v":49},{"s":20,"d":216,"v":44},{"s":20,"d":217,"v":39},{"s":20,"d":218,"v":34},{"s":20,"d":219,"v":41},{"s":20,"d":220,"v":54},{"s":20,"d":221,"v":55},{"s":20,"d":222,"v":58},{"s":20,"d":223,"v":49},{"s":20,"d":224,"v":43},{"s":20,"d":225,"v":29},{"s":20,"d":226,"v":37},{"s":20,"d":227,"v":33},{"s":20,"d":228,"v":43},{"s":20,"d":229,"v":null},{"s":20,"d":230,"v":20},{"s":20,"d":231,"v":22},
{"s":20,"d":301,"v":20},{"s":20,"d":302,"v":29},{"s":20,"d":303,"v":33},{"s":20,"d":304,"v":32},{"s":20,"d":305,"v":35},{"s":20,"d":306,"v":30},{"s":20,"d":307,"v":32},{"s":20,"d":308,"v":29},{"s":20,"d":309,"v":30},
{"s":21,"d":101,"v":43},{"s":21,"d":102,"v":41},{"s":21,"d":103,"v":39},{"s":21,"d":104,"v":27},{"s":21,"d":105,"v":31},{"s":21,"d":106,"v":31},{"s":21,"d":107,"v":44},{"s":21,"d":108,"v":41},{"s":21,"d":109,"v":45},{"s":21,"d":110,"v":45},{"s":21,"d":111,"v":43},{"s":21,"d":112,"v":48},{"s":21,"d":113,"v":48},{"s":21,"d":114,"v":46},{"s":21,"d":115,"v":44},{"s":21,"d":116,"v":55},{"s":21,"d":117,"v":56},{"s":21,"d":118,"v":43},{"s":21,"d":119,"v":40},{"s":21,"d":120,"v":51},{"s":21,"d":121,"v":62},{"s":21,"d":122,"v":58},{"s":21,"d":123,"v":54},{"s":21,"d":124,"v":43},{"s":21,"d":125,"v":48},{"s":21,"d":126,"v":49},{"s":21,"d":127,"v":56},{"s":21,"d":128,"v":56},
{"s":21,"d":201,"v":46},{"s":21,"d":202,"v":50},{"s":21,"d":203,"v":48},{"s":21,"d":204,"v":41},{"s":21,"d":205,"v":51},{"s":21,"d":206,"v":76},{"s":21,"d":207,"v":48},{"s":21,"d":208,"v":36},{"s":21,"d":209,"v":33},{"s":21,"d":210,"v":33},{"s":21,"d":211,"v":27},{"s":21,"d":212,"v":43},{"s":21,"d":213,"v":56},{"s":21,"d":214,"v":41},{"s":21,"d":215,"v":56},{"s":21,"d":216,"v":50},{"s":21,"d":217,"v":41},{"s":21,"d":218,"v":38},{"s":21,"d":219,"v":41},{"s":21,"d":220,"v":58},{"s":21,"d":221,"v":55},{"s":21,"d":222,"v":67},{"s":21,"d":223,"v":57},{"s":21,"d":224,"v":40},{"s":21,"d":225,"v":36},{"s":21,"d":226,"v":46},{"s":21,"d":227,"v":41},{"s":21,"d":228,"v":39},{"s":21,"d":229,"v":32},{"s":21,"d":230,"v":16},{"s":21,"d":231,"v":16},
{"s":21,"d":301,"v":18},{"s":21,"d":302,"v":26},{"s":21,"d":303,"v":39},{"s":21,"d":304,"v":32},{"s":21,"d":305,"v":39},{"s":21,"d":306,"v":32},{"s":21,"d":307,"v":39},{"s":21,"d":308,"v":38},{"s":21,"d":309,"v":50}
]
},
"spacing": 5.3,
"vconcat": [
{
"width": 1061, "height": 20,
"view": {"fill": "#dedede", "stroke": null},
"layer": [
{"data": {"name": "cells"}, "mark": {"type": "rect", "opacity": 0},
"encoding": {
"x": {"field": "d", "type": "ordinal", "scale": {"paddingInner": 0.08, "paddingOuter": 0.04}, "axis": null},
"y": {"datum": "PM2.5", "type": "nominal", "scale": {"paddingInner": 0, "paddingOuter": 0},
"axis": {"orient": "left", "offset": 59, "domain": true, "domainColor": "#dedede", "domainWidth": 72, "labels": false, "ticks": false, "tickSize": 0, "grid": false,
"title": "PM2.5", "titleAngle": 0, "titleX": -28, "titleY": 15, "titleAlign": "left", "titleBaseline": "middle", "titleFontSize": 7, "titleFontWeight": "bold", "titleColor": "#333333"}}
}},
{"data": {"name": "months"}, "mark": {"type": "text", "align": "left", "dx": 2, "dy": 5, "fontSize": 6.5, "fontWeight": "bold", "color": "#333333"},
"encoding": {"x": {"field": "d", "type": "ordinal", "bandPosition": 0, "axis": null}, "text": {"field": "m"}}}
]
},
{
"spacing": 1.3,
"vconcat": [
{
"width": 1061, "height": 396,
"data": {"name": "cells"},
"transform": [{"filter": "datum.s <= 19"}, {"lookup": "s", "from": {"data": {"name": "stations"}, "key": "s", "fields": ["k"]}}],
"layer": [
{"mark": {"type": "rect", "color": "#dadada"},
"encoding": {
"x": {"field": "d", "type": "ordinal", "scale": {"paddingInner": 0.08, "paddingOuter": 0.04},
"axis": {"orient": "top", "offset": 3.5, "domain": true, "domainColor": "#cccccc", "domainWidth": 1.5, "labels": false, "ticks": false, "tickSize": 0, "grid": false, "title": "DE REPRESENTACIÓN POBLACIONAL", "titleAnchor": "start", "titleAlign": "left", "titleFontSize": 6.3, "titleFontWeight": "normal", "titleColor": "#555555", "titlePadding": 6}},
"y": {"field": "k", "type": "ordinal", "scale": {"paddingInner": 0.07, "paddingOuter": 0.035},
"axis": {"orient": "left", "offset": 95, "domain": true, "domainColor": "#cccccc", "domainWidth": 1.5, "ticks": false, "tickSize": 0, "grid": false, "labelPadding": -8, "labelAlign": "left", "labelBaseline": "middle", "labelExpr": "split(datum.value, '|')[1]", "labelColor": "#8c8c8c", "labelFontSize": 5.5, "labelOffset": -5, "labelLimit": 0,
"title": "Estaciones", "titleAngle": 0, "titleX": 8, "titleY": -12.5, "titleAlign": "left", "titleBaseline": "middle", "titleFontSize": 6.8, "titleFontWeight": "bold", "titleColor": "#222222"}}
}},
{"transform": [{"filter": "isValid(datum.v)"}],
"mark": {"type": "rect"},
"encoding": {
"x": {"field": "d", "type": "ordinal", "scale": {"paddingInner": 0.08, "paddingOuter": 0.04},
"axis": {"orient": "top", "offset": 20, "domain": true, "domainColor": "#111111", "domainWidth": 2, "ticks": false, "tickSize": 0, "grid": false, "labelPadding": 8.5, "labelAngle": 0, "labelOverlap": false, "labelFontSize": 6, "labelColor": "#666666", "labelExpr": "(['D','L','M','MI','J','V','S'])[day(datetime(2018, floor(datum.value / 100), datum.value % 100))] + (datum.value % 100)", "title": null}},
"y": {"field": "k", "type": "ordinal", "scale": {"paddingInner": 0.07, "paddingOuter": 0.035},
"axis": {"orient": "left", "offset": 95, "domain": false, "ticks": false, "tickSize": 0, "grid": false, "labelPadding": -8, "labelAlign": "left", "labelBaseline": "middle", "labelExpr": "split(datum.value, '|')[2]", "labelColor": "#222222", "labelFontSize": 5.5, "labelFontWeight": "bold", "labelOffset": 5.5, "labelLimit": 0, "title": null}},
"color": {"field": "v", "type": "quantitative", "legend": null,
"scale": {"type": "threshold", "domain": [12.5, 37.5, 55.5], "range": ["#1c9a1c", "#ffff00", "#fb9a27", "#fe0000"]}}
}},
{"transform": [{"filter": "isValid(datum.v)"}],
"mark": {"type": "text", "fontSize": 5.5},
"encoding": {
"x": {"field": "d", "type": "ordinal", "scale": {"paddingInner": 0.08, "paddingOuter": 0.04},
"axis": {"orient": "top", "offset": 17.3, "domain": true, "domainColor": "#111111", "domainWidth": 1, "labels": false, "ticks": false, "tickSize": 0, "grid": false, "title": null}},
"y": {"field": "k", "type": "ordinal", "axis": null},
"text": {"field": "v"},
"color": {"condition": {"test": "datum.v > 55", "value": "#ffffff"}, "value": "#333333"}
}}
],
"resolve": {"axis": {"x": "independent", "y": "independent"}}
},
{
"width": 1061, "height": 42,
"data": {"name": "cells"},
"transform": [{"filter": "datum.s >= 20"}, {"lookup": "s", "from": {"data": {"name": "stations"}, "key": "s", "fields": ["k"]}}],
"layer": [
{"mark": {"type": "rect", "color": "#dadada"},
"encoding": {
"x": {"field": "d", "type": "ordinal", "scale": {"paddingInner": 0.08, "paddingOuter": 0.04},
"axis": {"orient": "top", "offset": 4, "domain": true, "domainColor": "#cccccc", "domainWidth": 1.5, "labels": false, "ticks": false, "tickSize": 0, "grid": false, "title": "DE TRÁFICO", "titleAnchor": "start", "titleAlign": "left", "titleFontSize": 6.3, "titleFontWeight": "normal", "titleColor": "#555555", "titlePadding": 6.5}},
"y": {"field": "k", "type": "ordinal", "scale": {"paddingInner": 0.07, "paddingOuter": 0.035},
"axis": {"orient": "left", "offset": 95, "domain": true, "domainColor": "#cccccc", "domainWidth": 1.5, "ticks": false, "tickSize": 0, "grid": false, "labelPadding": -8, "labelAlign": "left", "labelBaseline": "middle", "labelExpr": "split(datum.value, '|')[1]", "labelColor": "#8c8c8c", "labelFontSize": 5.5, "labelOffset": -5, "labelLimit": 0, "title": null}}
}},
{"transform": [{"filter": "isValid(datum.v)"}],
"mark": {"type": "rect"},
"encoding": {
"x": {"field": "d", "type": "ordinal", "scale": {"paddingInner": 0.08, "paddingOuter": 0.04}, "axis": null},
"y": {"field": "k", "type": "ordinal", "scale": {"paddingInner": 0.07, "paddingOuter": 0.035},
"axis": {"orient": "left", "offset": 95, "domain": false, "ticks": false, "tickSize": 0, "grid": false, "labelPadding": -8, "labelAlign": "left", "labelBaseline": "middle", "labelExpr": "split(datum.value, '|')[2]", "labelColor": "#222222", "labelFontSize": 5.5, "labelFontWeight": "bold", "labelOffset": 5.5, "labelLimit": 0, "title": null}},
"color": {"field": "v", "type": "quantitative", "legend": null,
"scale": {"type": "threshold", "domain": [12.5, 37.5, 55.5], "range": ["#1c9a1c", "#ffff00", "#fb9a27", "#fe0000"]}}
}},
{"transform": [{"filter": "isValid(datum.v)"}],
"mark": {"type": "text", "fontSize": 5.5},
"encoding": {
"x": {"field": "d", "type": "ordinal", "axis": null},
"y": {"field": "k", "type": "ordinal", "axis": null},
"text": {"field": "v"},
"color": {"condition": {"test": "datum.v > 55", "value": "#ffffff"}, "value": "#333333"}
}}
],
"resolve": {"axis": {"x": "independent", "y": "independent"}}
}
]
}
]
}
